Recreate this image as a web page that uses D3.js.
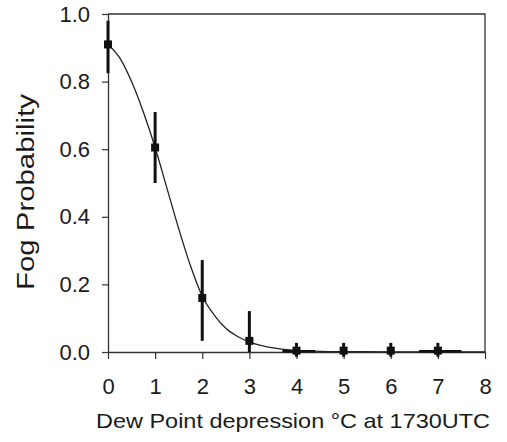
<!DOCTYPE html>
<html>
<head>
<meta charset="utf-8">
<script src="https://cdn.jsdelivr.net/npm/d3@7"></script>
<style>
  html, body { margin: 0; padding: 0; background: #fff; }
  svg { display: block; }
  text { font-family: "Liberation Sans", Arial, sans-serif; fill: #1a1a1a; }
</style>
</head>
<body>
<svg id="chart" width="507" height="442"></svg>
<script>
// observed fog probability by dew point depression (°C)
const depression = [0, 1, 2, 3, 4, 5, 6, 7]
const fogProb = [0.91, 0.605, 0.16, 0.033, 0.004, 0.004, 0.004, 0.004]
const errLow = [0.825, 0.50, 0.033, 0.0, -0.014, -0.014, -0.014, -0.014]
const errHigh = [0.98, 0.71, 0.272, 0.121, 0.027, 0.027, 0.027, 0.027]
// horizontal spread visible at 4 and 7
const xSpreadAt = [4, 7]
const xSpreadLow = [3.7, 6.6]
const xSpreadHigh = [4.4, 7.5]

// fitted curve
const curveX = [0, 0.25, 0.5, 0.75, 1, 1.25, 1.5, 1.75, 2, 2.25, 2.5, 2.75, 3, 3.5, 4, 4.5, 5, 6, 7, 8]
const curveY = [0.91, 0.87, 0.80, 0.71, 0.605, 0.485, 0.365, 0.255, 0.165, 0.11, 0.07, 0.046, 0.03, 0.012, 0.005, 0.002, 0.001, 0.0004, 0.0001, 0]

const xTicks = [0, 1, 2, 3, 4, 5, 6, 7, 8]
const yTicks = [0, 0.2, 0.4, 0.6, 0.8, 1.0]

const margin = { left: 108, right: 22, top: 14, bottom: 90 }
const width = 507 - margin.left - margin.right
const height = 442 - margin.top - margin.bottom

const svg = d3.select('#chart')
const g = svg.append('g').attr('transform', `translate(${margin.left},${margin.top})`)

const x = d3.scaleLinear().domain([0, 8]).range([0, width])
const y = d3.scaleLinear().domain([0, 1]).range([height, 0])

// frame (top and right)
g.append('path')
  .attr('d', `M0,0H${width}V${height}`)
  .attr('fill', 'none')
  .attr('stroke', '#333')
  .attr('stroke-width', 1.3)

// x axis
const xAxis = g.append('g')
  .attr('transform', `translate(0,${height})`)
  .call(d3.axisBottom(x).tickValues(xTicks).tickFormat(d3.format('d')).tickSize(7).tickSizeOuter(0).tickPadding(19))
xAxis.select('.domain').attr('stroke', '#333').attr('stroke-width', 1.3)
xAxis.selectAll('.tick line').attr('stroke', '#333').attr('stroke-width', 1.2)
xAxis.selectAll('.tick text').attr('font-size', 22).attr('fill', '#1a1a1a')

// y axis
const yAxis = g.append('g')
  .call(d3.axisLeft(y).tickValues(yTicks).tickFormat(d3.format('.1f')).tickSize(6).tickSizeOuter(0).tickPadding(12))
yAxis.select('.domain').attr('stroke', '#333').attr('stroke-width', 1.3)
yAxis.selectAll('.tick line').attr('stroke', '#333').attr('stroke-width', 1.2)
yAxis.selectAll('.tick text').attr('font-size', 22).attr('fill', '#1a1a1a')

// fitted curve
const line = d3.line()
  .x((d, i) => x(curveX[i]))
  .y(d => y(d))
  .curve(d3.curveMonotoneX)
g.append('path')
  .datum(curveY)
  .attr('d', line)
  .attr('fill', 'none')
  .attr('stroke', '#222')
  .attr('stroke-width', 1.3)

// horizontal spreads
g.selectAll('.xspread')
  .data(xSpreadAt)
  .enter()
  .append('line')
  .attr('x1', (d, i) => x(xSpreadLow[i]))
  .attr('x2', (d, i) => x(xSpreadHigh[i]))
  .attr('y1', y(0.002))
  .attr('y2', y(0.002))
  .attr('stroke', '#111')
  .attr('stroke-width', 2.5)

// vertical error bars
g.selectAll('.err')
  .data(depression)
  .enter()
  .append('line')
  .attr('x1', d => x(d))
  .attr('x2', d => x(d))
  .attr('y1', (d, i) => y(errLow[i]))
  .attr('y2', (d, i) => y(errHigh[i]))
  .attr('stroke', '#111')
  .attr('stroke-width', 3)

// markers
const ms = 8
g.selectAll('.pt')
  .data(depression)
  .enter()
  .append('rect')
  .attr('x', d => x(d) - ms / 2)
  .attr('y', (d, i) => y(fogProb[i]) - ms / 2)
  .attr('width', ms)
  .attr('height', ms)
  .attr('fill', '#111')

// axis titles
svg.append('text')
  .attr('x', 96)
  .attr('y', 428)
  .attr('font-size', 21)
  .attr('textLength', 394)
  .attr('lengthAdjust', 'spacingAndGlyphs')
  .text('Dew Point depression °C at 1730UTC')

svg.append('text')
  .attr('transform', 'translate(34,192) rotate(-90)')
  .attr('text-anchor', 'middle')
  .attr('font-size', 23)
  .attr('textLength', 196)
  .attr('lengthAdjust', 'spacingAndGlyphs')
  .text('Fog Probability')
</script>
</body>
</html>
